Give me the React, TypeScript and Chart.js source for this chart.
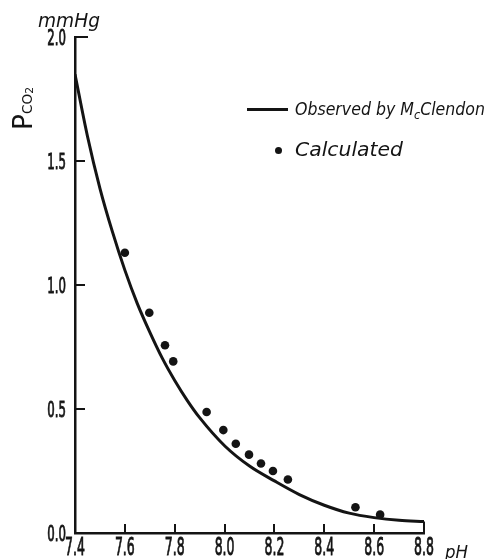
import React, { useEffect, useRef } from "react";
import { Chart, registerables } from "chart.js";

Chart.register(...registerables);

// ---- data ----
const xTicks = [7.4, 7.6, 7.8, 8.0, 8.2, 8.4, 8.6, 8.8];
const yTicks = [0, 0.5, 1.0, 1.5, 2.0];

const observedPH = [7.4, 7.45, 7.5, 7.55, 7.6, 7.65, 7.7, 7.75, 7.8, 7.85, 7.9, 8.0, 8.1, 8.2, 8.3, 8.4, 8.5, 8.6, 8.7, 8.8];
const observedPCO2 = [1.85, 1.6, 1.39, 1.215, 1.06, 0.925, 0.81, 0.705, 0.615, 0.535, 0.465, 0.352, 0.27, 0.21, 0.155, 0.112, 0.08, 0.062, 0.051, 0.046];

const calculatedPH = [7.6, 7.698, 7.761, 7.794, 7.928, 7.995, 8.045, 8.098, 8.146, 8.194, 8.254, 8.525, 8.624];
const calculatedPCO2 = [1.13, 0.888, 0.757, 0.692, 0.488, 0.415, 0.36, 0.316, 0.28, 0.25, 0.216, 0.104, 0.074];

const INK = "#141414";
const TICK_FONT = '"DejaVu Sans", "Liberation Sans", sans-serif';
const HAND_FONT = '"DejaVu Sans", "Liberation Sans", sans-serif';

type Piece = { text: string; size: number; dy?: number };

function drawPieces(ctx: CanvasRenderingContext2D, pieces: Piece[], x: number, baseline: number, targetWidth: number, style = "italic") {
  let total = 0;
  const widths = pieces.map((p) => {
    ctx.font = `${style} ${p.size}px ${HAND_FONT}`;
    const w = ctx.measureText(p.text).width;
    total += w;
    return w;
  });
  const sx = targetWidth / total;
  ctx.save();
  ctx.translate(x, baseline);
  ctx.scale(sx, 1);
  let cx = 0;
  pieces.forEach((p, i) => {
    ctx.font = `${style} ${p.size}px ${HAND_FONT}`;
    ctx.fillText(p.text, cx, p.dy || 0);
    cx += widths[i];
  });
  ctx.restore();
}

// narrow tall tick label, anchored by 'align' at (x, baseline)
function drawNarrow(ctx: CanvasRenderingContext2D, text: string, x: number, baseline: number, align: "center" | "right", size: number, sx: number) {
  ctx.save();
  ctx.font = `normal ${size}px ${TICK_FONT}`;
  const w = ctx.measureText(text).width * sx;
  const left = align === "center" ? x - w / 2 : x - w;
  ctx.translate(left, baseline);
  ctx.scale(sx, 1);
  ctx.textAlign = "left";
  ctx.fillText(text, 0, 0);
  ctx.lineWidth = 0.9;
  ctx.strokeText(text, 0, 0);
  ctx.restore();
}

const decorPlugin = {
  id: "decor",
  afterDraw(chart: any) {
    const { ctx, scales } = chart;
    const x = scales.x;
    const y = scales.y;
    ctx.save();
    ctx.strokeStyle = INK;
    ctx.fillStyle = INK;
    ctx.textBaseline = "alphabetic";
    ctx.textAlign = "left";

    const y0 = y.getPixelForValue(0);
    const xL = x.getPixelForValue(xTicks[0]);
    const xR = x.getPixelForValue(xTicks[xTicks.length - 1]);

    // inward x ticks
    ctx.lineWidth = 2;
    xTicks.slice(1, -1).forEach((v) => {
      const px = Math.round(x.getPixelForValue(v));
      ctx.beginPath();
      ctx.moveTo(px, y0);
      ctx.lineTo(px, y0 - 9);
      ctx.stroke();
    });
    // inward y ticks
    yTicks.slice(1).forEach((v, i, arr) => {
      const py = Math.round(y.getPixelForValue(v));
      const len = i === arr.length - 1 ? 13 : 10;
      ctx.beginPath();
      ctx.moveTo(xL, py);
      ctx.lineTo(xL + len, py);
      ctx.stroke();
    });
    // right end drop line
    const ye = y.getPixelForValue(observedPCO2[observedPCO2.length - 1]);
    ctx.beginPath();
    ctx.moveTo(xR, y0);
    ctx.lineTo(xR, ye);
    ctx.stroke();

    // tick labels from the library's scales
    (x.ticks || []).forEach((t: any) => {
      const label = t.label != null && t.label !== "" ? String(t.label) : Number(t.value).toFixed(1);
      drawNarrow(ctx, label, x.getPixelForValue(t.value), y0 + 22, "center", 25, 0.5);
    });
    (y.ticks || []).forEach((t: any) => {
      const label = t.label != null && t.label !== "" ? String(t.label) : Number(t.value).toFixed(1);
      drawNarrow(ctx, label, xL - 9, y.getPixelForValue(t.value) + 7.5, "right", 21, 0.56);
    });

    // legend
    ctx.lineWidth = 3;
    ctx.beginPath();
    ctx.moveTo(247, 109.5);
    ctx.lineTo(288, 109.5);
    ctx.stroke();
    ctx.beginPath();
    ctx.arc(278.5, 150.5, 3.5, 0, Math.PI * 2);
    ctx.fill();

    drawPieces(ctx, [
      { text: "Observed by M", size: 18 },
      { text: "c", size: 13, dy: 4 },
      { text: "Clendon", size: 18 },
    ], 295, 115, 190);
    drawPieces(ctx, [{ text: "Calculated", size: 20 }], 295, 156, 108);

    // axis titles
    drawPieces(ctx, [{ text: "mmHg", size: 19 }], 38, 26.5, 62);
    drawPieces(ctx, [{ text: "pH", size: 18 }], 445, 558, 23);

    // P_CO2 rotated
    ctx.save();
    ctx.translate(32, 130);
    ctx.rotate(-Math.PI / 2);
    drawPieces(ctx, [
      { text: "P", size: 27 },
      { text: "CO", size: 14 },
      { text: "2", size: 11, dy: 1 },
    ], 0, 0, 43, "normal");
    ctx.restore();

    ctx.restore();
  },
};

export default function App() {
  const ref = useRef<HTMLCanvasElement | null>(null);

  useEffect(() => {
    if (!ref.current) return;
    const chart = new Chart(ref.current, {
      type: "scatter",
      data: {
        datasets: [
          {
            type: "line",
            label: "Observed by McClendon",
            data: observedPH.map((v, i) => ({ x: v, y: observedPCO2[i] })),
            borderColor: INK,
            borderWidth: 3,
            pointRadius: 0,
            cubicInterpolationMode: "monotone",
            fill: false,
          } as any,
          {
            type: "scatter",
            label: "Calculated",
            data: calculatedPH.map((v, i) => ({ x: v, y: calculatedPCO2[i] })),
            backgroundColor: INK,
            borderColor: INK,
            pointRadius: 4.3,
            pointBorderWidth: 0,
          },
        ],
      },
      options: {
        responsive: false,
        animation: false,
        devicePixelRatio: 1,
        layout: { padding: { left: 0, top: 37, right: 67, bottom: 0 } },
        plugins: {
          legend: { display: false },
          tooltip: { enabled: false },
          title: { display: false },
        },
        scales: {
          x: {
            type: "linear",
            min: xTicks[0],
            max: xTicks[xTicks.length - 1],
            afterBuildTicks: (s: any) => {
              s.ticks = xTicks.map((v) => ({ value: v }));
            },
            afterFit: (s: any) => {
              s.height = 26;
            },
            grid: { display: false, drawTicks: false },
            border: { display: true, color: INK, width: 2.5 },
            ticks: {
              display: false,
              autoSkip: false,
              callback: (v: any) => Number(v).toFixed(1),
            },
          },
          y: {
            type: "linear",
            min: yTicks[0],
            max: yTicks[yTicks.length - 1],
            afterBuildTicks: (s: any) => {
              s.ticks = yTicks.map((v) => ({ value: v }));
            },
            afterFit: (s: any) => {
              s.width = 75;
            },
            grid: { display: false, drawTicks: false },
            border: { display: true, color: INK, width: 2.5 },
            ticks: {
              display: false,
              autoSkip: false,
              callback: (v: any) => Number(v).toFixed(1),
            },
          },
        },
      } as any,
      plugins: [decorPlugin],
    });
    return () => chart.destroy();
  }, []);

  return (
    <div style={{ position: "absolute", left: 0, top: 0, width: 491, height: 559, background: "#fff" }}>
      <canvas ref={ref} width={491} height={559} style={{ width: 491, height: 559, display: "block" }} />
    </div>
  );
}
